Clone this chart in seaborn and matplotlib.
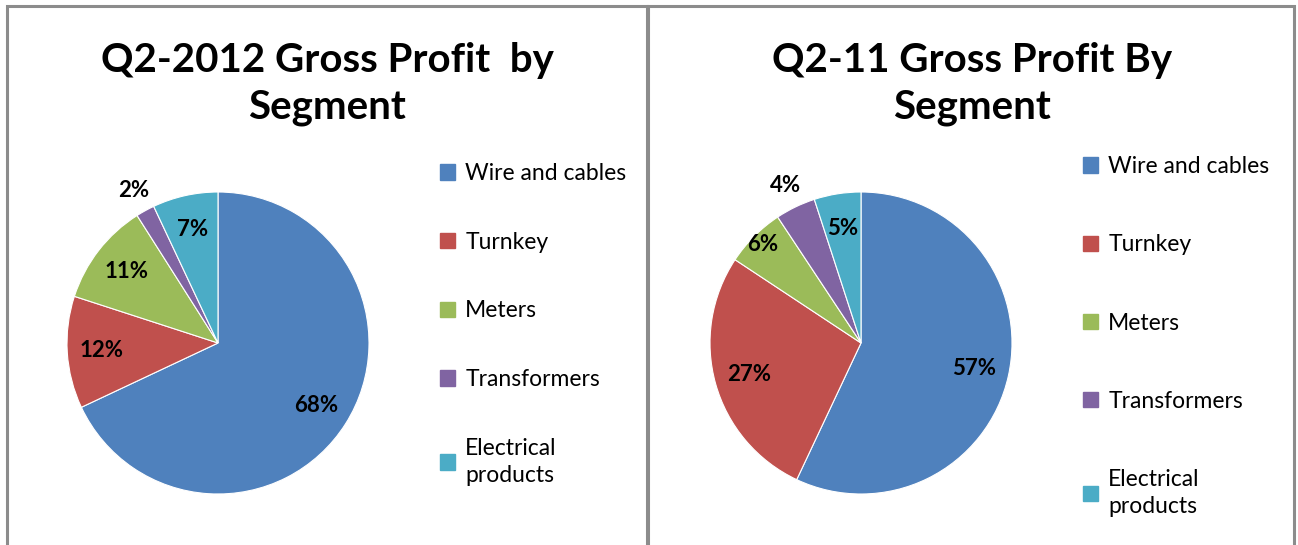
import matplotlib
matplotlib.use("Agg")
import matplotlib.pyplot as plt
import matplotlib.patches as mpatches
import seaborn as sns

# Data
segments = ["Wire and cables", "Turnkey", "Meters", "Transformers", "Electrical\nproducts"]
q2_2012 = [68, 12, 11, 2, 7]
q2_2011 = [57.0, 27.3, 6.4, 4.3, 5.0]
titles = ["Q2-2012 Gross Profit  by\nSegment", "Q2-11 Gross Profit By\nSegment"]

sns.set_style("white")
plt.rcParams["font.family"] = ["Lato", "DejaVu Sans"]
plt.rcParams["text.color"] = "black"
colors = ["#4F81BD", "#C0504D", "#9BBB59", "#8064A2", "#4BACC6"]

W, H = 1298, 545
fig = plt.figure(figsize=(W / 100, H / 100), dpi=100)

# panel borders
for x0, x1 in [(7, 647), (648, 1294)]:
    fig.patches.append(mpatches.Rectangle((x0 / W, -0.05), (x1 - x0) / W, (H - 6) / H + 0.05,
                                          transform=fig.transFigure, fill=False,
                                          edgecolor="#8c8c8c", linewidth=2.2))

panels = [
    dict(vals=q2_2012, cx=218, title_x=327, leg_x=440, leg_y=191, spacing=2.08),
    dict(vals=q2_2011, cx=861, title_x=972, leg_x=1083, leg_y=184, spacing=2.5),
]
r = 151
cy = 343
for p, title in zip(panels, titles):
    ax = fig.add_axes([(p["cx"] - r) / W, (H - cy - r) / H, 2 * r / W, 2 * r / H])
    wedges, texts, autotexts = ax.pie(p["vals"], colors=colors, startangle=90, counterclock=False,
                                      autopct="%1.0f%%", pctdistance=0.77,
                                      wedgeprops=dict(edgecolor="white", linewidth=0.8),
                                      textprops=dict(fontsize=16, fontweight="bold", color="black"))
    ax.set_xlim(-1, 1)
    ax.set_ylim(-1, 1)
    ax.set_aspect("equal")
    # small slices get their label pushed outside
    for v, t in zip(p["vals"], autotexts):
        x, y = t.get_position()
        if v < 5:
            t.set_position((x * 1.5, y * 1.5))
        elif 5 < v < 7:
            t.set_position((x * 1.2, y * 1.2))
    fig.text(p["title_x"] / W, 1 - 84 / H, title, ha="center", va="center",
             fontsize=29, fontweight="bold", linespacing=1.32)
    handles = [mpatches.Patch(color=c) for c in colors]
    leg = fig.legend(handles, segments, loc="upper left",
                     bbox_to_anchor=(p["leg_x"] / W, 1 - (p["leg_y"] - 28) / H),
                     frameon=False, fontsize=16.5, handlelength=0.65, handleheight=0.65,
                     handletextpad=0.45, labelspacing=p["spacing"], borderaxespad=0, borderpad=0)
    for t in leg.get_texts():
        t.set_linespacing(1.35)

plt.savefig("out.png", dpi=100)
